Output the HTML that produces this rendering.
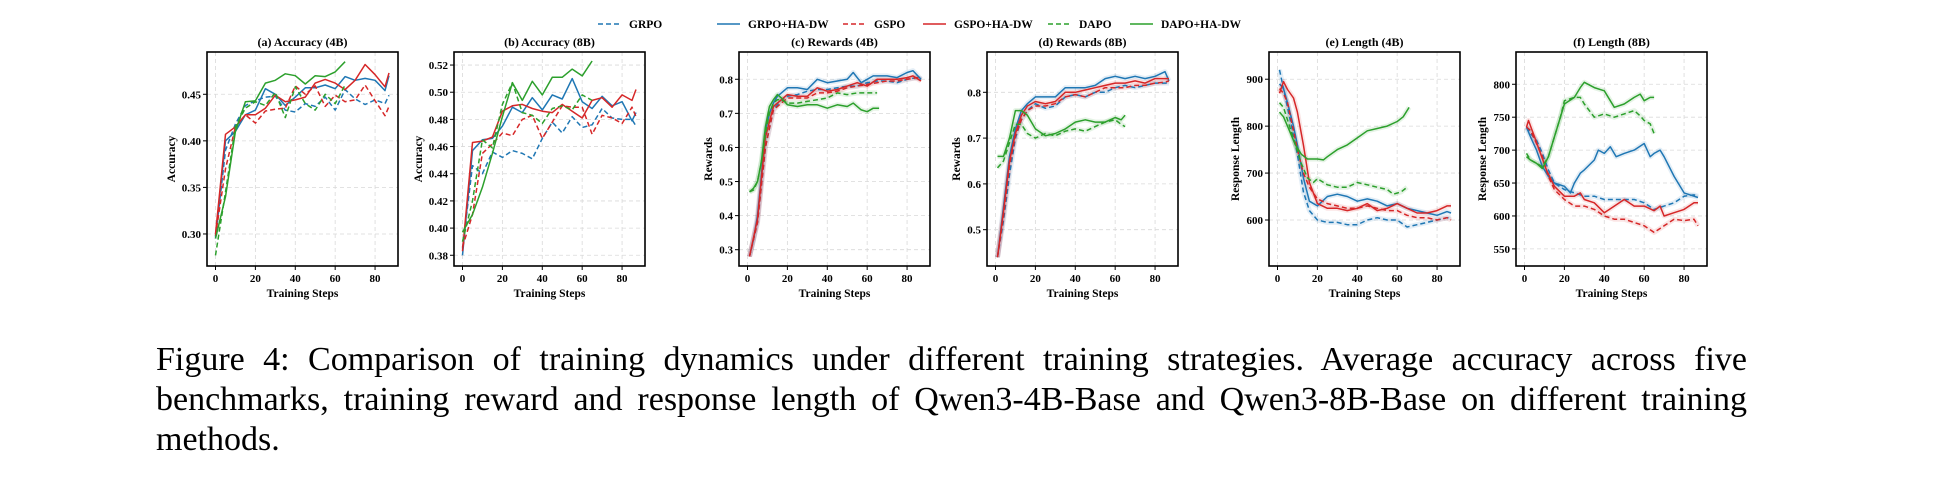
<!DOCTYPE html>
<html><head><meta charset="utf-8">
<style>
html,body{margin:0;padding:0;background:#fff;}
body{width:1938px;height:482px;overflow:hidden;position:relative;}
#fig{position:absolute;left:0;top:0;}
#caption{position:absolute;left:156px;top:340px;width:1591px;font-family:"Liberation Serif",serif;font-size:34px;line-height:40px;text-align:justify;text-align-last:left;color:#000;}
</style></head><body>
<svg id="fig" width="1938" height="330" xmlns="http://www.w3.org/2000/svg"></svg>
<div id="caption">Figure 4: Comparison of training dynamics under different training strategies. Average accuracy across five benchmarks, training reward and response length of Qwen3-4B-Base and Qwen3-8B-Base on different training methods.</div>
<script>
// ---- data ----
const seriesNames = ["GRPO","GRPO+HA-DW","GSPO","GSPO+HA-DW","DAPO","DAPO+HA-DW"];
const xTicks = [0,20,40,60,80];

const accX = [0,5,10,15,20,25,30,35,40,45,50,55,60,65,70,75,80,85,87];
const a_grpo = [0.295,0.39,0.418,0.438,0.443,0.447,0.448,0.433,0.431,0.44,0.437,0.447,0.433,0.455,0.445,0.439,0.444,0.44,0.449];
const a_grpoHA = [0.297,0.400,0.41,0.428,0.433,0.456,0.45,0.438,0.447,0.457,0.457,0.46,0.456,0.469,0.465,0.467,0.465,0.454,0.47];
const a_gspo = [0.298,0.37,0.415,0.428,0.419,0.432,0.434,0.435,0.459,0.45,0.459,0.437,0.449,0.442,0.444,0.46,0.443,0.427,0.437];
const a_gspoHA = [0.3,0.407,0.415,0.428,0.428,0.435,0.449,0.442,0.444,0.447,0.462,0.466,0.462,0.455,0.465,0.482,0.471,0.458,0.473];
const a_dapo = [0.277,0.345,0.415,0.435,0.442,0.438,0.452,0.425,0.458,0.44,0.433,0.45,0.44,0.46];
const a_dapoHA = [0.295,0.34,0.41,0.442,0.443,0.462,0.465,0.472,0.47,0.461,0.47,0.469,0.474,0.485];
const aTicks = [0.30,0.35,0.40,0.45];

const b_grpo = [0.385,0.446,0.44,0.456,0.452,0.457,0.455,0.451,0.466,0.478,0.47,0.482,0.474,0.476,0.488,0.481,0.48,0.48,0.475];
const b_grpoHA = [0.38,0.457,0.465,0.466,0.475,0.489,0.485,0.496,0.487,0.498,0.495,0.51,0.493,0.488,0.497,0.49,0.493,0.479,0.485];
const b_gspo = [0.386,0.41,0.455,0.462,0.47,0.468,0.48,0.483,0.466,0.478,0.49,0.489,0.489,0.469,0.483,0.481,0.477,0.489,0.482];
const b_gspoHA = [0.383,0.463,0.464,0.467,0.486,0.49,0.491,0.488,0.486,0.485,0.491,0.486,0.481,0.494,0.496,0.489,0.498,0.494,0.502];
const b_dapo = [0.39,0.42,0.465,0.459,0.491,0.507,0.485,0.483,0.477,0.488,0.49,0.487,0.498,0.494];
const b_dapoHA = [0.397,0.41,0.43,0.455,0.482,0.507,0.494,0.508,0.498,0.511,0.511,0.517,0.512,0.523];
const bTicks = [0.38,0.40,0.42,0.44,0.46,0.48,0.50,0.52];

const c_grpoX = [1,5,9,13,17,20,25,30,35,40,45,50,55,60,65,70,75,80,85,87];
const c_grpo = [0.28,0.38,0.6,0.71,0.74,0.75,0.755,0.765,0.77,0.77,0.775,0.78,0.78,0.79,0.795,0.795,0.79,0.8,0.805,0.8];
const c_grpoHAX = [1,3,5,7,9,11,13,15,17,20,25,30,35,40,45,50,53,57,60,63,70,75,80,83,87];
const c_grpoHA = [0.28,0.33,0.4,0.52,0.65,0.7,0.73,0.75,0.76,0.775,0.775,0.77,0.8,0.79,0.795,0.8,0.82,0.79,0.8,0.81,0.81,0.805,0.82,0.825,0.8];
const c_gspoX = [1,5,9,13,17,20,25,30,35,40,45,50,55,60,65,70,75,80,85,87];
const c_gspo = [0.28,0.38,0.6,0.71,0.73,0.745,0.745,0.745,0.76,0.76,0.765,0.775,0.78,0.785,0.79,0.795,0.795,0.8,0.805,0.8];
const c_gspoHAX = [1,5,9,13,17,20,25,30,35,40,45,50,55,60,65,70,75,80,83,87];
const c_gspoHA = [0.28,0.39,0.63,0.72,0.74,0.755,0.75,0.75,0.775,0.765,0.77,0.78,0.79,0.78,0.8,0.8,0.8,0.805,0.81,0.795];
const c_dapoX = [1,3,5,7,9,11,13,15,17,20,25,30,35,40,45,50,55,60,65];
const c_dapo = [0.47,0.475,0.5,0.56,0.64,0.7,0.73,0.74,0.74,0.73,0.73,0.735,0.74,0.745,0.76,0.755,0.76,0.76,0.76];
const c_dapoHAX = [1,3,5,7,9,11,13,15,17,20,25,30,35,40,45,50,53,57,60,63,66];
const c_dapoHA = [0.47,0.48,0.5,0.56,0.66,0.72,0.74,0.755,0.745,0.725,0.72,0.725,0.725,0.715,0.725,0.72,0.73,0.71,0.705,0.715,0.715];
const cTicks = [0.3,0.4,0.5,0.6,0.7,0.8];

const d_X = [1,4,7,10,13,16,20,25,30,35,40,45,50,55,60,65,70,75,80,85,87];
const d_grpo = [0.44,0.52,0.62,0.7,0.74,0.76,0.775,0.765,0.77,0.79,0.795,0.79,0.8,0.8,0.81,0.815,0.81,0.815,0.82,0.82,0.82];
const d_grpoHA = [0.44,0.55,0.66,0.72,0.76,0.775,0.79,0.79,0.79,0.81,0.81,0.81,0.815,0.83,0.835,0.83,0.835,0.83,0.835,0.845,0.825];
const d_gspo = [0.44,0.53,0.64,0.705,0.74,0.76,0.77,0.77,0.775,0.79,0.795,0.79,0.8,0.81,0.81,0.81,0.815,0.815,0.82,0.822,0.825];
const d_gspoHA = [0.44,0.54,0.65,0.71,0.75,0.77,0.78,0.775,0.78,0.8,0.8,0.805,0.81,0.815,0.82,0.82,0.825,0.82,0.83,0.83,0.83];
const d_dX = [1,4,7,10,13,16,20,25,30,35,40,45,50,55,60,63,65];
const d_dapo = [0.635,0.65,0.69,0.73,0.73,0.71,0.7,0.71,0.705,0.715,0.72,0.715,0.725,0.735,0.74,0.73,0.725];
const d_dapoHA = [0.66,0.66,0.7,0.76,0.76,0.75,0.72,0.705,0.71,0.72,0.735,0.74,0.735,0.735,0.745,0.74,0.75];
const dTicks = [0.5,0.6,0.7,0.8];

const e_X = [1,3,5,8,10,13,16,20,25,30,35,40,45,50,55,60,65,70,75,80,85,87];
const e_grpo = [920,880,840,780,740,660,620,600,595,595,590,590,600,605,600,600,585,590,595,600,605,605];
const e_grpoHA = [890,880,850,800,760,690,640,630,650,655,650,640,645,640,630,635,625,620,615,610,618,615];
const e_gspo = [880,870,850,790,750,700,670,645,635,630,625,625,630,625,620,620,610,605,605,600,605,600];
const e_gspoHA = [870,895,878,860,830,760,680,635,625,625,620,625,635,620,625,635,625,615,615,620,630,630];
const e_dX = [1,3,6,9,12,15,18,20,25,30,35,40,45,50,55,58,62,65];
const e_dapo = [850,840,800,760,720,690,680,688,675,670,670,680,675,670,665,655,660,670];
const e_dapoHAX = [1,3,6,9,12,15,20,23,25,30,35,40,45,50,55,60,63,66];
const e_dapoHA = [830,820,790,760,740,730,730,728,735,750,760,775,790,795,800,810,820,840];
const eTicks = [600,700,800,900];

const f_X = [1,3,6,9,12,15,20,25,30,35,40,45,50,55,60,65,70,75,80,85,87];
const f_grpo = [735,725,715,695,670,650,640,635,630,630,625,625,625,625,620,610,615,620,630,632,630];
const f_grpoHAX = [1,3,6,9,12,15,20,23,25,28,30,35,37,40,43,46,50,55,60,63,65,68,70,75,80,85,87];
const f_grpoHA = [735,720,700,675,660,650,645,635,650,665,670,685,700,695,705,690,695,700,710,690,695,700,690,660,635,630,628];
const f_gspo = [735,730,710,690,660,640,625,615,615,610,600,595,595,590,585,575,585,595,593,595,585];
const f_gspoHAX = [1,2,5,8,11,15,20,25,28,30,35,40,45,50,55,60,65,68,70,75,80,85,87];
const f_gspoHA = [735,745,720,695,670,645,630,630,635,625,620,605,615,625,615,615,608,615,600,605,610,620,620];
const f_dX = [1,3,6,9,12,15,18,20,25,28,30,35,40,45,50,55,58,60,63,65];
const f_dapo = [695,685,680,675,690,720,750,775,780,780,770,750,755,750,755,760,752,745,740,725];
const f_dapoHA = [690,685,680,672,690,720,750,770,780,795,803,795,790,765,770,780,785,775,780,780];
const fTicks = [550,600,650,700,750,800];

// ---- drawing ----
const NS = "http://www.w3.org/2000/svg";
const svg = document.getElementById('fig');
const COL = {blue:"#1f77b4", red:"#d62728", green:"#2ca02c"};
const FONT = '"Liberation Serif", serif';
function mk(tag, attrs, parent){const e=document.createElementNS(NS,tag);for(const k in attrs)e.setAttribute(k,attrs[k]);(parent||svg).appendChild(e);return e;}

const panels = [
 {left:207,title:"(a) Accuracy (4B)",ylab:"Accuracy",ymin:0.2656,ymax:0.4954,ticks:aTicks,dec:2,labOff:36,haze:false,
  series:[[accX,a_grpo,"blue",1],[accX,a_grpoHA,"blue",0],[accX,a_gspo,"red",1],[accX,a_gspoHA,"red",0],[accX.slice(0,14),a_dapo,"green",1],[accX.slice(0,14),a_dapoHA,"green",0]]},
 {left:454,title:"(b) Accuracy (8B)",ylab:"Accuracy",ymin:0.3721,ymax:0.5296,ticks:bTicks,dec:2,labOff:36,haze:false,
  series:[[accX,b_grpo,"blue",1],[accX,b_grpoHA,"blue",0],[accX,b_gspo,"red",1],[accX,b_gspoHA,"red",0],[accX.slice(0,14),b_dapo,"green",1],[accX.slice(0,14),b_dapoHA,"green",0]]},
 {left:739,title:"(c) Rewards (4B)",ylab:"Rewards",ymin:0.2522,ymax:0.880,ticks:cTicks,dec:1,labOff:31,haze:true,
  series:[[c_grpoX,c_grpo,"blue",1],[c_grpoHAX,c_grpoHA,"blue",0],[c_gspoX,c_gspo,"red",1],[c_gspoHAX,c_gspoHA,"red",0],[c_dapoX,c_dapo,"green",1],[c_dapoHAX,c_dapoHA,"green",0]]},
 {left:987,title:"(d) Rewards (8B)",ylab:"Rewards",ymin:0.4207,ymax:0.888,ticks:dTicks,dec:1,labOff:31,haze:true,
  series:[[d_X,d_grpo,"blue",1],[d_X,d_grpoHA,"blue",0],[d_X,d_gspo,"red",1],[d_X,d_gspoHA,"red",0],[d_dX,d_dapo,"green",1],[d_dX,d_dapoHA,"green",0]]},
 {left:1269,title:"(e) Length (4B)",ylab:"Response Length",ymin:502,ymax:958,ticks:eTicks,dec:0,labOff:34,haze:true,
  series:[[e_X,e_grpo,"blue",1],[e_X,e_grpoHA,"blue",0],[e_X,e_gspo,"red",1],[e_X,e_gspoHA,"red",0],[e_dX,e_dapo,"green",1],[e_dapoHAX,e_dapoHA,"green",0]]},
 {left:1516,title:"(f) Length (8B)",ylab:"Response Length",ymin:524,ymax:849,ticks:fTicks,dec:0,labOff:34,haze:true,
  series:[[f_X,f_grpo,"blue",1],[f_grpoHAX,f_grpoHA,"blue",0],[f_X,f_gspo,"red",1],[f_gspoHAX,f_gspoHA,"red",0],[f_dX,f_dapo,"green",1],[f_dX,f_dapoHA,"green",0]]}
];
const TOP=52, BOT=266, W=191, XMIN=-4.26, XMAX=91.5;

panels.forEach((p,pi)=>{
  const g = mk('g',{});
  
  
  const xs = v => p.left + (v-XMIN)/(XMAX-XMIN)*W;
  const ys = v => BOT - (v-p.ymin)/(p.ymax-p.ymin)*(BOT-TOP);
  xTicks.forEach(t=>{
    const l=mk('line',{x1:xs(t),x2:xs(t),y1:TOP,y2:BOT,stroke:"#d9d9d9","stroke-width":0.8,"stroke-dasharray":"4,3"},g);
    
    
    const tk=mk('line',{x1:xs(t),x2:xs(t),y1:BOT,y2:BOT+4,stroke:"#000","stroke-width":1},g);
    
    
    const tx=mk('text',{x:xs(t),y:BOT+16,"text-anchor":"middle","font-family":FONT,"font-weight":"bold","font-size":11},g);
    tx.textContent=t;
    
    
  });
  p.ticks.forEach(t=>{
    const l=mk('line',{x1:p.left,x2:p.left+W,y1:ys(t),y2:ys(t),stroke:"#d9d9d9","stroke-width":0.8,"stroke-dasharray":"4,3"},g);
    
    
    const tk=mk('line',{x1:p.left-4,x2:p.left,y1:ys(t),y2:ys(t),stroke:"#000","stroke-width":1},g);
    
    
    const tx=mk('text',{x:p.left-6,y:ys(t)+4,"text-anchor":"end","font-family":FONT,"font-weight":"bold","font-size":11},g);
    tx.textContent=t.toFixed(p.dec);
    
    
  });
  // faint haze (raw-curve band) behind smoothed lines
  if(p.haze){
    p.series.forEach((s,si)=>{
      const [X,Y,c]=s;
      let d='';
      for(let i=0;i<Y.length;i++){d+=(i?'L':'M')+xs(X[i]).toFixed(1)+','+ys(Y[i]).toFixed(1);}
      const h=mk('path',{d:d,fill:"none",stroke:COL[c],"stroke-width":5,"stroke-opacity":0.12,"stroke-linejoin":"round"},g);
      
      
    });
  }
  p.series.forEach((s,si)=>{
    const [X,Y,c,dashed]=s;
    let d='';
    for(let i=0;i<Y.length;i++){d+=(i?'L':'M')+xs(X[i]).toFixed(1)+','+ys(Y[i]).toFixed(1);}
    const a={d:d,fill:"none",stroke:COL[c],"stroke-width":1.5,"stroke-linejoin":"round"};
    if(dashed)a["stroke-dasharray"]="5,3";
    const path=mk('path',a,g);
    
    
  });
  const box=mk('rect',{x:p.left,y:TOP,width:W,height:BOT-TOP,fill:"none",stroke:"#000","stroke-width":1.6},g);
  
  
  const ti=mk('text',{x:p.left+W/2,y:46,"text-anchor":"middle","font-family":FONT,"font-weight":"bold","font-size":12},g);
  ti.textContent=p.title;
  
  
  const xl=mk('text',{x:p.left+W/2,y:297,"text-anchor":"middle","font-family":FONT,"font-weight":"bold","font-size":11.5},g);
  xl.textContent="Training Steps";
  
  
  const cx=p.left-p.labOff, cy=(TOP+BOT)/2;
  const yl=mk('text',{x:cx,y:cy,"text-anchor":"middle","font-family":FONT,"font-weight":"bold","font-size":11.5,transform:`rotate(-90 ${cx} ${cy}) translate(0 4)`},g);
  yl.textContent=p.ylab;
  
  
});

const legX=[598,717,843,923,1048,1130];
const legC=["blue","blue","red","red","green","green"];
const lg=mk('g',{});


seriesNames.forEach((n,i)=>{
  const a={x1:legX[i],x2:legX[i]+23,y1:24,y2:24,stroke:COL[legC[i]],"stroke-width":1.5};
  if(i%2===0)a["stroke-dasharray"]="5,3";
  const l=mk('line',a,lg);
  
  
  const t=mk('text',{x:legX[i]+31,y:28,"font-family":FONT,"font-weight":"bold","font-size":11.5},lg);
  t.textContent=n;
  
  
});
</script>
</body></html>
